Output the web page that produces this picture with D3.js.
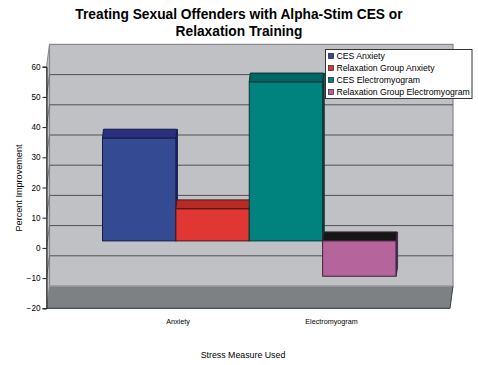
<!DOCTYPE html>
<html>
<head>
<meta charset="utf-8">
<script src="https://cdn.jsdelivr.net/npm/d3@7"></script>
<style>
  html, body { margin: 0; padding: 0; background: #fff; }
  svg { display: block; }
  text { font-family: "Liberation Sans", Arial, sans-serif; fill: #000; }
</style>
</head>
<body>
<script>
const seriesNames = ["CES Anxiety", "Relaxation Group Anxiety", "CES Electromyogram", "Relaxation Group Electromyogram"];
const seriesValues = [34, 10.6, 52.6, -11.7];
const faceColors = ["#344a92", "#e03634", "#00837f", "#b6649c"];
const topColors = ["#2b2f80", "#b72b26", "#006664", "#161616"];
const sideColors = ["#1d2560", "#8f201d", "#0b3a3a", "#4b2a55"];
const edgeColors = ["#151b45", "#4a1512", "#0a3333", "#3a2338"];
const yTicks = [60, 50, 40, 30, 20, 10, 0, -10, -20];
const categories = ["Anxiety", "Electromyogram"];
const titleLines = ["Treating Sexual Offenders with Alpha-Stim CES or", "Relaxation Training"];

const svg = d3.select("body").append("svg").attr("width", 478).attr("height", 365);

// front plane scale, the back wall is the same thing shifted up and right
const sY = d3.scaleLinear().domain([-20, 60]).range([308.3, 66.7]);
const depthX = 3, depthY = -22.3;
const sX = d3.scaleBand().domain(seriesNames).range([102.5, 396]);
const sCat = d3.scalePoint().domain(categories).range([178, 331.5]);
const left = 46.5, right = 450;

// back wall
svg.append("rect")
  .attr("x", left + depthX).attr("y", sY(60) + depthY)
  .attr("width", right - left).attr("height", sY(-20) - sY(60))
  .attr("fill", "#c0c1c5").attr("stroke", "#85878a").attr("stroke-width", 1.2);

// left wall
svg.append("path")
  .attr("d", `M${left},${sY(60)}L${left + depthX},${sY(60) + depthY}V${sY(-20) + depthY}L${left},${sY(-20)}Z`)
  .attr("fill", "#c0c1c5").attr("stroke", "#85878a").attr("stroke-width", 1);

// gridlines on the wall
const grid = svg.append("g");
yTicks.filter(d => d < 60 && d > -20).forEach(d => {
  grid.append("line")
    .attr("x1", left + depthX).attr("x2", right + depthX)
    .attr("y1", sY(d) + depthY).attr("y2", sY(d) + depthY)
    .attr("stroke", "#4f5154").attr("stroke-width", 1);
  grid.append("line")
    .attr("x1", left).attr("x2", left + depthX)
    .attr("y1", sY(d)).attr("y2", sY(d) + depthY)
    .attr("stroke", "#707276").attr("stroke-width", 1);
});

// floor
svg.append("path")
  .attr("d", `M${left},${sY(-20)}L${left + depthX},${sY(-20) + depthY}H${right + depthX}L${right},${sY(-20)}Z`)
  .attr("fill", "#7d8184");
svg.append("line")
  .attr("x1", left + depthX).attr("x2", right + depthX)
  .attr("y1", sY(-20) + depthY).attr("y2", sY(-20) + depthY)
  .attr("stroke", "#a6a8ab").attr("stroke-width", 1);
svg.append("line")
  .attr("x1", right + depthX).attr("x2", right)
  .attr("y1", sY(-20) + depthY).attr("y2", sY(-20))
  .attr("stroke", "#3c3e40").attr("stroke-width", 1);

// y axis
const axisY = d3.axisLeft(sY).tickValues(yTicks).tickSize(4).tickPadding(2);
const gY = svg.append("g").attr("transform", `translate(${left},0)`).call(axisY);
gY.select(".domain").attr("stroke", "#1a1a1a").attr("stroke-width", 1);
gY.selectAll("line").attr("stroke", "#1a1a1a");
gY.selectAll("text").style("font-size", "8.2px").attr("font-family", '"Liberation Sans", Arial, sans-serif');

// front floor edge
svg.append("line")
  .attr("x1", left).attr("x2", right)
  .attr("y1", sY(-20)).attr("y2", sY(-20))
  .attr("stroke", "#2c2e30").attr("stroke-width", 1);

// bars sit a bit inside the depth of the box
const barFront = -7, barBack = -16;
const barTopX = 1, sideW = 1.6;
const bars = svg.append("g");
seriesNames.forEach((name, i) => {
  const v = seriesValues[i];
  const x0 = sX(name), w = sX.bandwidth();
  const yTop = sY(Math.max(v, 0)) + barFront;
  const yBase = sY(Math.min(v, 0)) + barFront;
  const yBack = yTop + (barBack - barFront);
  // side
  bars.append("path")
    .attr("d", `M${x0 + w},${yTop}L${x0 + w + barTopX + sideW - 1},${yBack}V${yBase + (barBack - barFront)}L${x0 + w},${yBase}Z`)
    .attr("fill", sideColors[i]).attr("stroke", sideColors[i]).attr("stroke-width", 1);
  // top
  bars.append("path")
    .attr("d", `M${x0},${yTop}L${x0 + barTopX},${yBack}H${x0 + w + barTopX}L${x0 + w},${yTop}Z`)
    .attr("fill", topColors[i]).attr("stroke", edgeColors[i]).attr("stroke-width", 1);
  // front
  bars.append("rect")
    .attr("x", x0).attr("y", yTop).attr("width", w).attr("height", yBase - yTop)
    .attr("fill", faceColors[i]).attr("stroke", edgeColors[i]).attr("stroke-width", 1);
});

// category labels
svg.selectAll(".cat").data(categories).enter().append("text")
  .attr("class", "cat")
  .attr("x", d => sCat(d)).attr("y", 323.5)
  .attr("text-anchor", "middle")
  .style("font-size", "7.2px")
  .text(d => d);

// axis titles
svg.append("text")
  .attr("x", 243).attr("y", 358)
  .attr("text-anchor", "middle")
  .style("font-size", "8.8px")
  .text("Stress Measure Used");
svg.append("text")
  .attr("transform", "translate(22,188) rotate(-90)")
  .attr("text-anchor", "middle")
  .style("font-size", "9.1px")
  .text("Percent Improvement");

// title
svg.selectAll(".title").data(titleLines).enter().append("text")
  .attr("class", "title")
  .attr("x", 239).attr("y", (d, i) => 18.5 + i * 17)
  .attr("text-anchor", "middle")
  .style("font-size", "13.75px")
  .style("font-weight", "bold")
  .text(d => d);

// legend
const legend = svg.append("g");
legend.append("rect")
  .attr("x", 325.5).attr("y", 49.5).attr("width", 146.5).attr("height", 49)
  .attr("fill", "#fff").attr("stroke", "#333").attr("stroke-width", 1);
const sLegend = d3.scalePoint().domain(seriesNames).range([56, 92]);
seriesNames.forEach((name, i) => {
  legend.append("rect")
    .attr("x", 328.5).attr("y", sLegend(name) - 2.5).attr("width", 5).attr("height", 5)
    .attr("fill", faceColors[i]).attr("stroke", "#222").attr("stroke-width", 0.7);
  legend.append("text")
    .attr("x", 336.5).attr("y", sLegend(name) + 3)
    .style("font-size", "8.7px")
    .text(name);
});
</script>
</body>
</html>
